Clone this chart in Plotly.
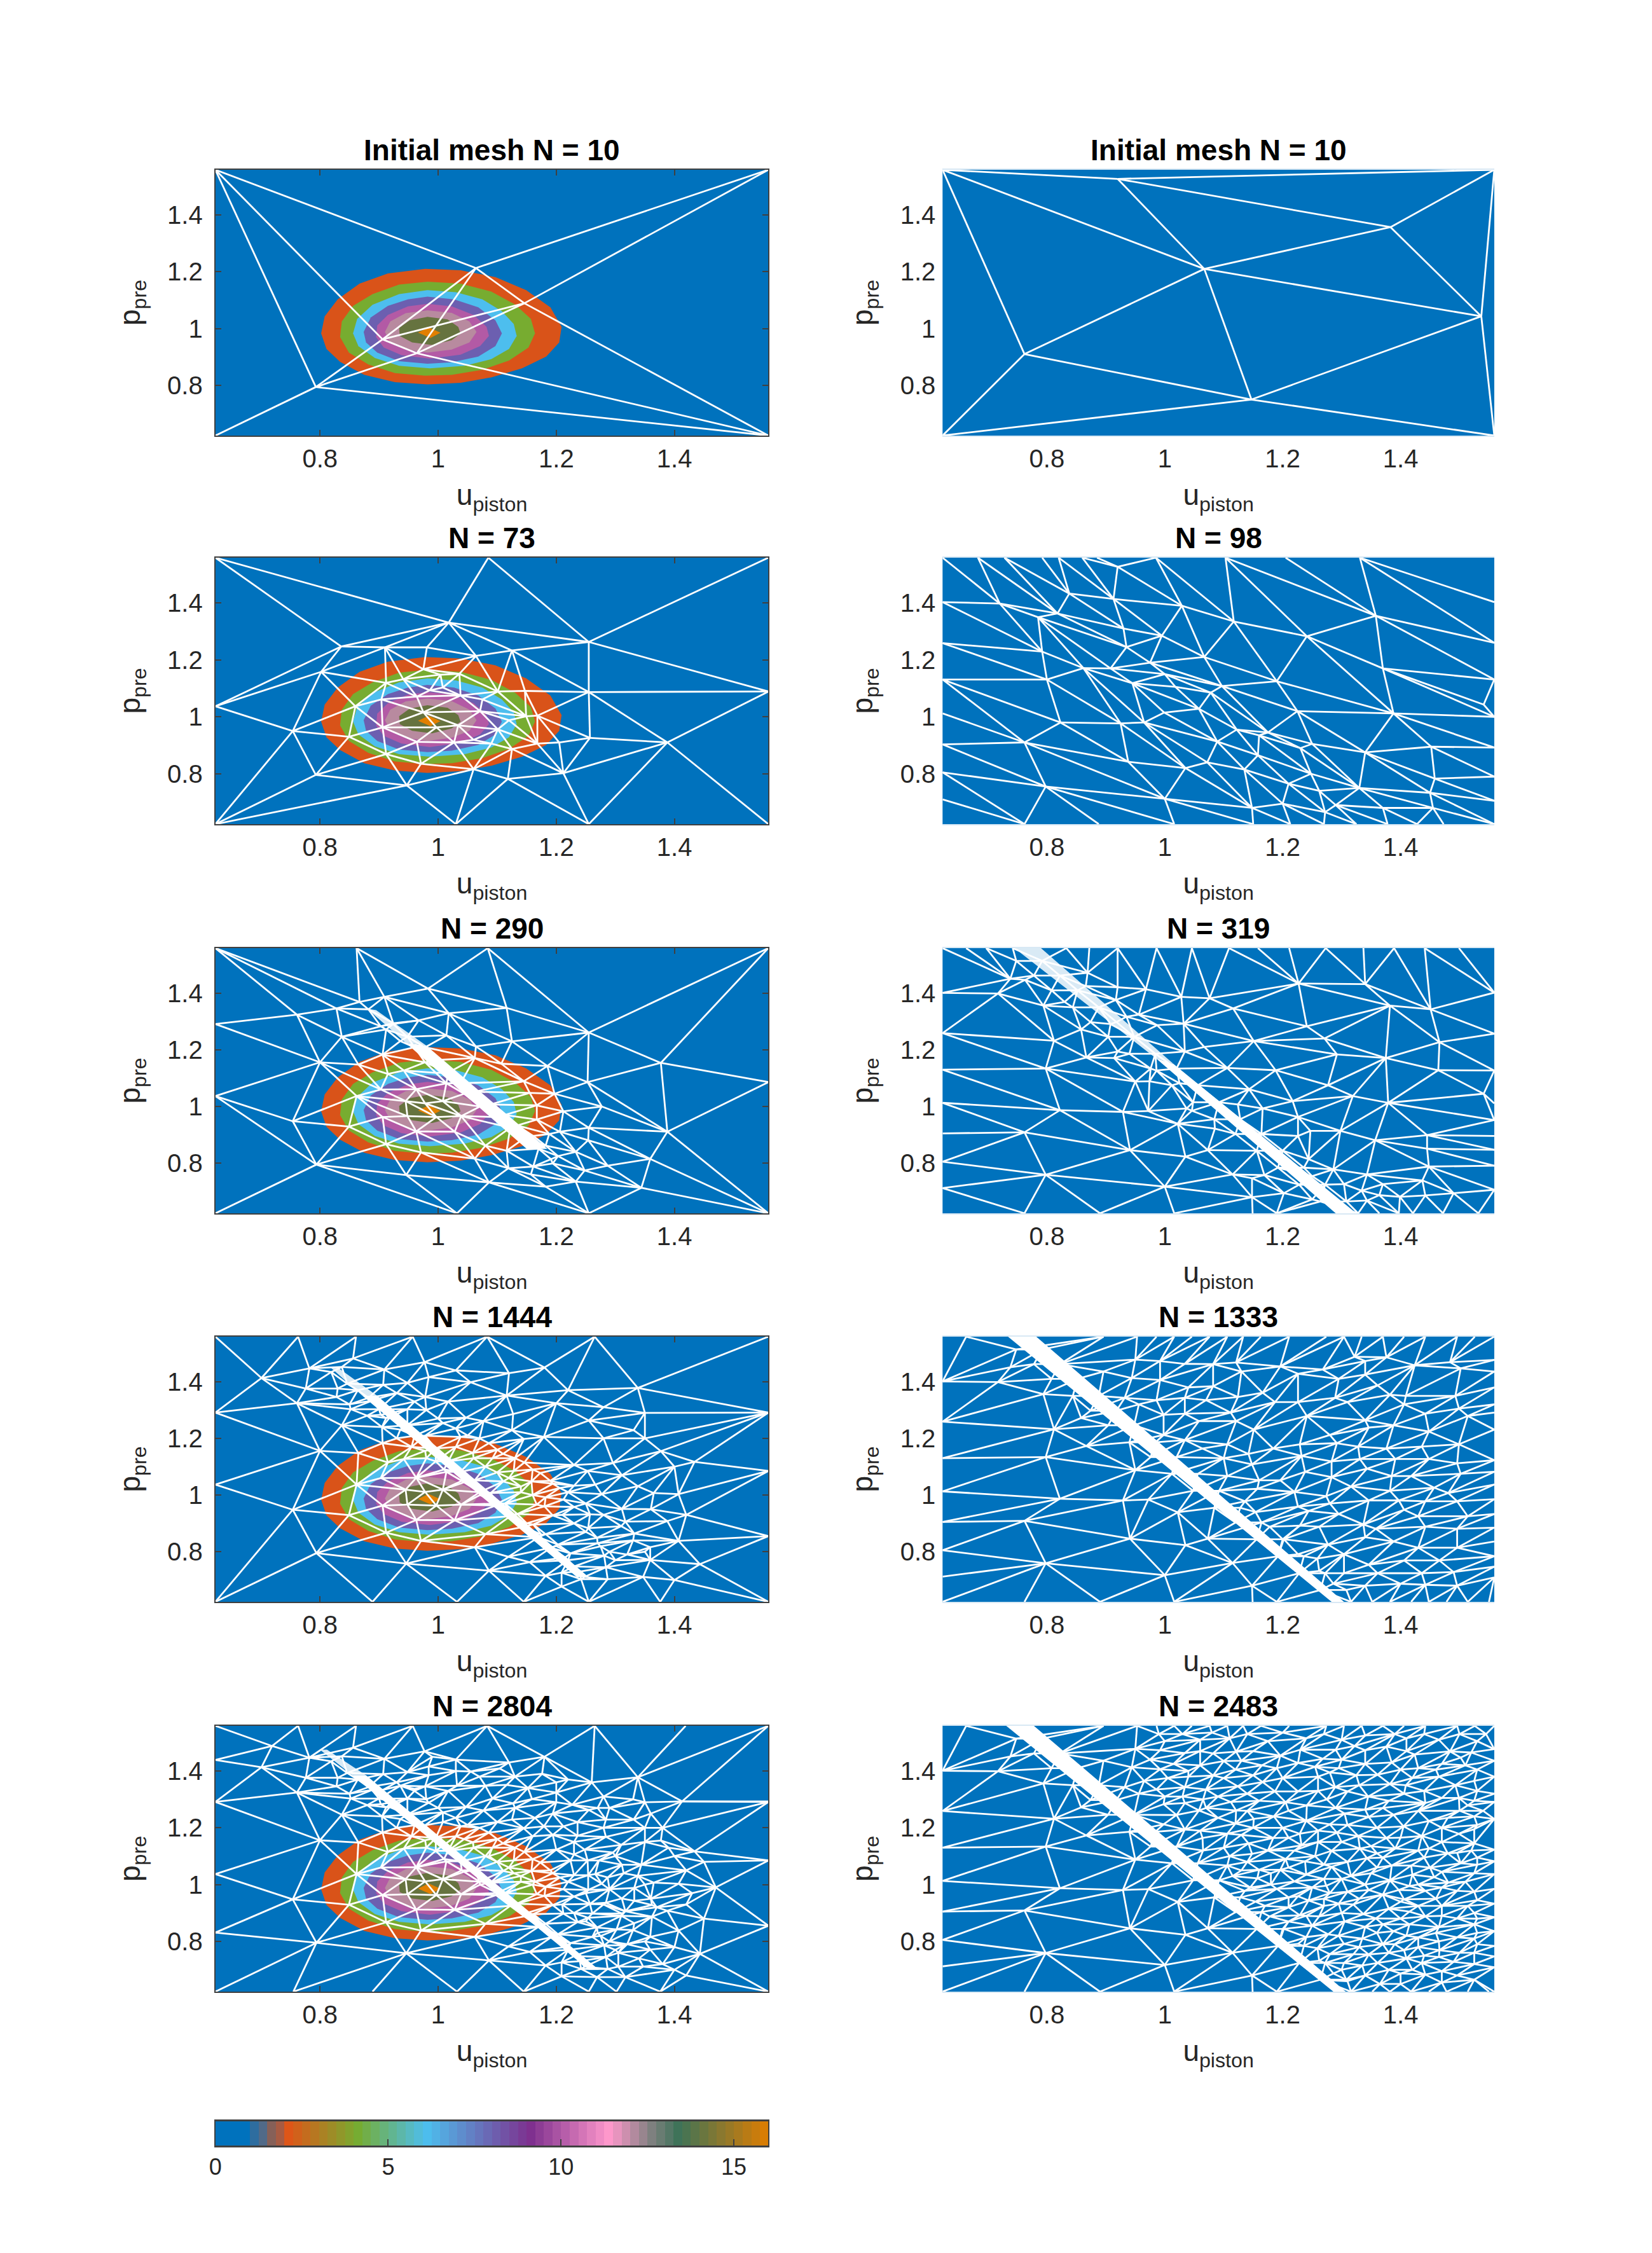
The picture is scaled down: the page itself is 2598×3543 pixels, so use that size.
import plotly.graph_objects as go

# axis limits and ticks (same on every panel)
lim = [0.623, 1.559]
tick_vals = [0.8, 1, 1.2, 1.4]
tick_text = ["0.8", "1", "1.2", "1.4"]

titles_left = ["Initial mesh N = 10", "N = 73", "N = 290", "N = 1444", "N = 2804"]
titles_right = ["Initial mesh N = 10", "N = 98", "N = 319", "N = 1333", "N = 2483"]

# filled contour levels, outermost first
c1 = [(.978,1.210),(1.038,1.205),(1.097,1.181),(1.149,1.135),(1.190,1.075),(1.209,1.006),(1.205,.951),(1.183,.901),(1.142,.860),(1.090,.828),(1.038,.809),(.982,.803),(.927,.811),(.875,.837),(.834,.883),(.811,.928),(.802,.983),(.808,1.043),(.830,1.103),(.867,1.158),(.915,1.194)]
c2 = [(.982,1.165),(1.038,1.158),(1.090,1.130),(1.131,1.084),(1.157,1.034),(1.164,.983),(1.153,.933),(1.120,.887),(1.075,.855),(1.023,.837),(.978,.834),(.927,.843),(.882,.873),(.849,.915),(.834,.970),(.837,1.025),(.856,1.080),(.889,1.121),(.934,1.155)]
c3 = [(.982,1.135),(1.030,1.128),(1.075,1.103),(1.108,1.061),(1.128,1.016),(1.133,.974),(1.120,.928),(1.090,.892),(1.045,.869),(.986,.860),(.934,.869),(.893,.896),(.865,.938),(.856,.983),(.863,1.034),(.889,1.084),(.934,1.121)]
c4 = [(.982,1.112),(1.027,1.103),(1.068,1.075),(1.097,1.029),(1.108,.983),(1.097,.938),(1.068,.901),(1.023,.881),(.982,.876),(.934,.885),(.897,.915),(.878,.951),(.874,.988),(.886,1.039),(.915,1.080),(.949,1.103)]
c5 = [(.982,1.087),(1.023,1.078),(1.060,1.048),(1.082,1.006),(1.086,.974),(1.071,.938),(1.038,.908),(.986,.894),(.938,.906),(.908,.933),(.895,.970),(.897,1.011),(.915,1.048),(.949,1.078)]
c6 = [(.982,1.064),(1.023,1.055),(1.053,1.025),(1.065,.988),(1.053,.951),(1.023,.926),(.982,.915),(.945,.926),(.919,.951),(.910,.988),(.919,1.025),(.945,1.054)]
c7 = [(.982,1.041),(1.016,1.032),(1.034,1.006),(1.038,.983),(1.023,.959),(.990,.942),(.956,.951),(.935,.974),(.934,1.002),(.952,1.029)]
c8 = [(.984,1.004),(1.004,.985),(.987,.967),(.966,.986)]
contours = [c1, c2, c3, c4, c5, c6, c7, c8]
contour_colors = ["#D95319", "#77AC30", "#4DBEEE", "#6C5FB0", "#B35AA5", "#B88A9F", "#66733F", "#E27F00"]

# colorbar cells
cbar_x = [.125,.375,.625,.875,1.125,1.375,1.625,1.875,2.125,2.375,2.625,2.875,3.125,3.375,3.625,3.875,4.125,4.375,4.625,4.875,5.125,5.375,5.625,5.875,6.125,6.375,6.625,6.875,7.125,7.375,7.625,7.875,8.125,8.375,8.625,8.875,9.125,9.375,9.625,9.875,10.125,10.375,10.625,10.875,11.125,11.375,11.625,11.875,12.125,12.375,12.625,12.875,13.125,13.375,13.625,13.875,14.125,14.375,14.625,14.875,15.125,15.375,15.625,15.875]
cbar_scale = [(0, "#0072BD"), (.9, "#0072BD"), (1.125, "#2E6D9F"), (1.375, "#516A88"), (1.625, "#866058"), (1.875, "#A85B42"), (2.125, "#DE5618"), (4.1, "#77AC30"), (6.1, "#4DBEEE"), (9.1, "#7E2F8E"), (11.4, "#FF99CC"), (12.6, "#808080"), (13.4, "#3D7358"), (16, "#E07D00")]
cbar_ticks = [0, 5, 10, 15]

corners = [(.623,1.559),(1.559,1.559),(.623,.623),(1.559,.623)]

# initial meshes, connectivity read directly
l1_nodes = corners + [(1.064,1.213),(.906,.962),(.964,.913),(1.146,1.089),(.793,.794)]
l1_edges = [(0,4),(0,5),(0,8),(1,4),(1,7),(2,8),(4,5),(4,6),(4,7),(5,6),(5,7),(6,7),(5,8),(6,8),(7,3),(6,3),(8,3)]
r1_nodes = corners + [(.920,1.527),(1.383,1.357),(1.067,1.210),(1.537,1.043),(.762,.910),(1.147,.750)]
r1_edges = [(0,4),(4,1),(4,5),(4,6),(0,6),(0,8),(6,5),(6,8),(6,7),(6,9),(5,1),(5,7),(1,7),(8,2),(8,9),(9,2),(9,7),(9,3),(7,3),(1,3)]

l2_nodes = corners + [(1.085,1.559),(1.018,1.331),(1.255,1.263),(1.125,1.233),(1.064,1.214),(.981,1.244),(.910,1.244),(.836,1.247),(.802,1.158),(.623,1.037),(1.559,1.089),(1.255,1.087),(1.147,1.091),(1.101,1.089),(1.168,1.004),(1.205,.910),(1.257,.926),(1.388,.910),(1.212,.802),(1.118,.782),(1.060,.816),(.971,.835),(.947,.759),(1.030,.623),(1.255,.623),(.793,.796),(.912,.869),(.849,.930),(.754,.950),(.860,1.037),(.912,1.119),(.941,1.132),(.975,1.167),(1.004,1.148),(1.036,1.151),(.906,.963),(.964,.912),(1.027,.910),(.997,.963),(.904,1.061),(.964,1.071),(.986,1.093),(.975,1.016),(1.034,.970),(1.060,.919),(1.090,.906),(1.125,.887),(1.168,.906),(1.149,1.002),(1.120,.988),(1.101,.956),(1.071,1.020),(1.038,1.075),(1.008,1.103),(1.075,1.061)]

# nodes common to the lower rows of the left column
l_shared = corners + [(.800,1.156),(.865,1.148),(.754,.948),(.623,1.037),(.794,.795),(.946,.758),(.849,.929),(.862,1.037),(.906,.963),(.963,.912),(1.028,.911),(.997,.963),(.912,.867),(.971,.838),(1.062,.816),(1.080,.862),(.903,1.060),(.963,1.061),(.978,1.011),(.945,1.019),(.948,.966),(1.008,1.019),(1.039,.966),(.915,1.115),(.942,1.127),(.906,1.183),(.837,1.246),(.761,1.324),(.828,1.346),(.623,1.291)]
l_band = [(.882,1.343),(.903,1.283),(.912,1.272),(.924,1.291),(.936,1.231),(.948,1.246),(.960,1.209),(.978,1.209),(.978,1.156),(.996,1.164),(.996,1.119),(1.017,1.119),(1.014,1.082),(1.038,1.082),(1.044,1.045),(1.062,1.052),(1.071,1.0),(1.089,1.007),(1.098,.963),(1.113,.970),(1.122,.925),(1.134,.933),(1.146,.888),(1.161,.896),(1.170,.851),(1.182,.862),(1.191,.814),(1.203,.825)]

l3_extra = [(.862,1.559),(1.084,1.559),(.983,1.416),(1.116,1.348),(1.255,1.261),(1.125,1.230),(1.064,1.212),(1.018,1.329),(.967,1.304),(.867,1.369),(1.014,1.251),(.924,1.294),(.909,1.387),(1.185,1.143),(1.377,1.154),(1.559,1.086),(1.253,1.086),(1.197,1.045),(1.155,1.048),(1.107,1.151),(1.062,1.171),(1.145,1.089),(1.212,.983),(1.277,1.0),(1.388,.911),(1.255,.925),(1.254,.881),(1.206,.911),(1.167,1.004),(1.167,.954),(1.188,.903),(1.359,.815),(1.344,.713),(1.248,.774),(1.287,.791),(1.233,.735),(1.182,.717),(1.157,.760),(1.119,.782),(1.086,.732),(1.032,.623),(1.255,.623),(1.116,.844),(1.233,.840),(1.194,.799),(1.161,.788)]

l4_extra = [(.763,1.559),(.861,1.559),(.957,1.559),(1.083,1.559),(1.265,1.559),(.889,.623),(1.032,.623),(1.145,.623),(1.255,.623),(1.376,.623),(1.559,1.291),(1.559,1.085),(.701,1.413),(.782,1.447),(.856,1.482),(.837,1.452),(.819,1.434),(.909,1.443),(.977,1.469),(.984,1.416),(.948,1.396),(1.055,1.398),(.776,1.376),(.830,1.376),(.852,1.303),(.907,1.389),(.978,1.346),(1.017,1.330),(.948,1.303),(1.116,1.351),(1.200,1.324),(1.338,1.378),(1.127,1.286),(1.047,1.273),(1.077,1.261),(1.008,1.254),(1.255,1.263),(1.331,1.229),(1.125,1.229),(1.145,1.198),(1.179,1.205),(1.377,1.155),(1.434,1.117),(1.253,1.085),(1.230,1.106),(1.296,1.113),(1.311,1.070),(1.338,1.031),(1.266,1.037),(1.365,1.007),(1.407,1.003),(1.277,1.003),(1.230,1.033),(1.212,.984),(1.230,.958),(1.311,.951),(1.257,.932),(1.388,.908),(1.317,.906),(1.254,.883),(1.332,.864),(1.269,.849),(1.407,.838),(1.559,.855),(1.359,.816),(1.275,.819),(1.359,.771),(1.443,.756),(1.281,.786),(1.284,.745),(1.347,.711),(1.287,.703),(1.242,.703),(1.182,.715),(1.209,.677),(1.209,.726),(1.155,.763),(1.119,.782),(1.086,.733),(1.038,1.205),(1.086,1.183),(1.110,1.145),(1.146,1.115),(1.173,1.078),(1.194,1.040),(1.182,.992),(1.206,1.025),(1.158,1.048),(1.128,1.085),(1.092,1.130),(1.059,1.149),(1.110,1.048),(1.140,1.010),(1.167,.966),(1.194,.928),(.846,1.393),(.864,1.370),(.888,1.333),(.900,1.303),(.918,1.273),(1.215,.780),(1.230,.748),(1.248,.711),(1.224,.794),
    (1.03,1.44),(1.12,1.43),(1.18,1.45),(1.22,1.37),(1.28,1.31),(1.35,1.29),(1.28,1.20),(1.35,1.20),(1.40,1.10),(1.36,.95),(1.42,.93),(1.32,.79),(1.40,.70)]
# rows of nodes running beside the ridge in the fine left meshes
l45_near = [(.93,1.36),(.96,1.33),(.98,1.30),(1.00,1.27),(1.03,1.235),(1.05,1.21),
    (1.03,1.17),(1.06,1.13),(1.08,1.10),(1.10,1.08),(1.12,1.06),(1.14,1.03),(1.16,1.00),(1.18,.96),(1.21,.93),(1.23,.90),(1.25,.87),(1.27,.83),(1.29,.80),(1.30,.77),
    (1.07,1.20),(1.10,1.16),(1.13,1.13),(1.16,1.09),(1.19,1.05),(1.22,1.01),(1.25,.97),(1.28,.93),(1.31,.89),(1.33,.84),(1.35,.80),
    (.85,1.32),(.88,1.28),(.905,1.24),(.93,1.20),(.955,1.17),(.98,1.13),(1.01,1.09),(1.04,1.05),(1.07,1.01),(1.10,.97),(1.125,.93),(1.15,.90),(1.175,.86),(1.20,.82),(1.22,.77),(1.24,.73)]

l5_extra = [(.623,1.439),(.719,1.488),(.623,.831),(1.419,1.559),(.755,.623),(1.302,.623),(1.413,1.293),(1.559,1.293),(1.284,1.229),(1.227,1.281),(1.176,1.390),(1.104,1.409),(1.159,1.301),(1.344,1.070),(1.362,.928),(1.305,.760),(1.305,.711),(1.269,.674),(1.317,.674),(1.194,1.175),(1.212,1.205),(1.236,1.172),(1.248,1.123),(1.200,1.123),(1.272,1.085),(1.224,1.085),(1.254,1.033),(1.287,1.025),(1.254,.981),(1.290,.984),(1.332,.988),(1.284,.936),(1.332,.943),(1.261,.898),(1.311,.898),(1.362,.887),(1.302,.842),(1.236,.868),(1.261,.816),(1.314,.786),(1.212,.898),(1.314,1.040),(1.164,1.235),(1.080,1.348),(1.032,1.348),(1.092,1.303),(.984,1.385),(1.152,1.340),(1.236,1.220),(1.284,1.168),(1.194,1.250),(.984,1.288),(1.008,1.220),(1.044,1.160),(1.086,1.100),(1.128,1.040),(1.164,1.010),(.960,1.337),(.936,1.348),(.906,1.333),
    (.99,1.45),(1.03,1.40),(1.07,1.38),(1.13,1.38),(1.20,1.36),(1.26,1.36),(1.29,1.27),(1.20,1.29),(1.13,1.27),(1.10,1.22),(1.16,1.17),(1.27,1.27),(1.33,1.30),(1.36,1.25),(1.38,1.20),(1.35,1.15),(1.39,1.13),(1.42,1.05),(1.45,1.08),(1.47,.99),(1.43,.97),(1.45,.88),(1.40,.78),(1.38,.72),(1.42,.68),(1.30,1.10),(1.35,1.00),(1.37,.92),(1.34,.74),(1.23,1.15),(1.31,1.14)]

# nodes left of the ridge, common to the lower rows of the right column
r_shared = corners + [(.623,1.259),(.623,1.401),(.623,1.130),(.623,1.013),(.623,.905),(.623,.805),(.623,.712),(.717,1.399),(.812,1.232),(.798,1.134),(.867,1.173),(.822,.987),(.762,.909),(.941,.846),(.798,.759),(1.0,.717),(.929,.981),(.972,.984),(.950,1.088),(1.022,.939),(1.073,.846),(1.035,.823),(1.115,.760),(1.148,.680),(.762,.623),(.890,.623),(1.016,.623),(1.149,.623),(.794,1.356),(.858,1.272),(.738,1.451),(.663,1.559),(1.190,.623)]
r_band = [(.748,1.514),(.792,1.514),(.778,1.462),(.822,1.462),(.808,1.410),(.852,1.410),(.844,1.350),(.888,1.350),(.874,1.298),(.918,1.298),(.904,1.246),(.948,1.246),(.940,1.186),(.984,1.186),(.976,1.134),(1.020,1.134),(1.012,1.075),(1.056,1.075),(1.048,1.015),(1.092,1.015),(1.084,.955),(1.128,.955),(1.120,.903),(1.164,.903),(1.156,.844),(1.200,.844),(1.192,.784),(1.236,.784),(1.228,.724),(1.272,.724),(1.264,.665),(1.308,.665)]

r3_extra = [(.872,1.559),(.920,1.559),(.986,1.559),(1.046,1.559),(1.109,1.559),(1.158,1.559),(1.211,1.559),(1.273,1.559),(1.337,1.559),(1.389,1.559),(1.441,1.559),(1.499,1.559),(.697,1.559),(.742,1.559),(.833,1.559),(1.559,1.402),(1.559,1.257),(1.559,1.127),(1.559,1.011),(1.559,.952),(1.559,.896),(1.559,.847),(1.559,.791),(1.559,.706),(.869,1.472),(.920,1.421),(.866,1.425),(.968,1.414),(1.028,1.387),(1.076,1.382),(1.116,1.346),(1.227,1.434),(1.340,1.432),(1.382,1.356),(1.451,1.343),(1.466,1.227),(1.464,1.128),(1.375,1.171),(1.292,1.184),(1.271,1.240),(1.241,1.283),(1.151,1.231),(1.067,1.210),(1.032,1.292),(.987,1.287),(.956,1.324),(.917,1.376),(1.034,1.194),(1.106,1.136),(1.188,1.128),(1.277,1.075),(1.319,1.037),(1.379,1.013),(1.541,1.045),(1.217,1.019),(1.143,1.061),(1.166,.993),(1.226,.963),(1.124,1.007),(1.247,.914),(1.298,.914),(1.357,.881),(1.445,.899),(1.226,.896),(1.244,.814),(1.286,.778),(1.343,.760),(1.448,.788),(1.445,.851),(1.437,.739),(1.370,.726),(1.364,.687),(1.442,.686),(1.490,.694),(1.399,.681),(1.334,.703),(1.304,.726),(1.343,.668),(1.250,.754),(1.397,.623),(1.364,.623),(1.421,.623),(1.472,.623),(1.532,.623),(1.328,.623),(1.202,.694),(1.250,.672),(1.148,.747),(1.169,.758),(1.085,.922),(1.046,.985),(1.037,.993),(1.025,1.082),(.974,1.089),(.914,1.171),(.986,1.127),(.920,1.194),(.830,1.369),(.763,1.447),(.908,1.291),(.935,1.317)]

r4_extra = [(.896,1.559),(.953,1.559),(.986,1.559),(1.016,1.559),(1.046,1.559),(1.076,1.559),(1.106,1.559),(1.133,1.559),(1.163,1.559),(1.211,1.559),(1.274,1.559),(1.304,1.559),(1.334,1.559),(1.370,1.559),(1.406,1.559),(1.442,1.559),(1.496,1.559),(1.526,1.559),
    (.950,1.478),(.992,1.473),(1.034,1.463),(1.082,1.462),(1.121,1.468),(1.196,1.454),(1.268,1.443),(1.322,1.488),(1.340,1.473),(1.376,1.486),(1.424,1.458),(1.484,1.469),(1.559,1.477),
    (.896,1.436),(.944,1.413),(.992,1.406),(1.040,1.380),(1.082,1.384),(1.130,1.436),(1.226,1.428),(1.295,1.410),(1.340,1.425),(1.361,1.387),(1.502,1.447),(1.559,1.436),
    (.932,1.343),(.986,1.335),(1.034,1.343),(1.070,1.335),(1.124,1.346),(1.166,1.361),(1.226,1.328),(1.289,1.343),(1.382,1.354),(1.409,1.350),(1.493,1.350),(1.559,1.380),
    (.956,1.320),(.998,1.283),(1.034,1.287),(1.058,1.261),(1.112,1.291),(1.151,1.231),(1.187,1.328),(1.241,1.279),(1.310,1.328),(1.340,1.264),(1.406,1.320),(1.442,1.287),(1.499,1.305),(1.559,1.320),
    (.998,1.212),(1.121,1.261),(1.280,1.212),(1.346,1.238),(1.388,1.246),(1.448,1.224),(1.514,1.279),(1.559,1.291),
    (1.034,1.194),(1.064,1.164),(1.106,1.179),(1.184,1.164),(1.229,1.179),(1.292,1.183),(1.328,1.171),(1.376,1.164),(1.436,1.171),(1.499,1.179),(1.559,1.231),
    (1.100,1.130),(1.142,1.145),(1.148,1.108),(1.232,1.138),(1.283,1.119),(1.331,1.127),(1.391,1.127),(1.448,1.127),(1.496,1.112),(1.559,1.123),
    (1.106,1.067),(1.160,1.052),(1.196,1.052),(1.238,1.082),(1.283,1.063),(1.343,1.093),(1.385,1.067),(1.418,1.067),(1.502,1.075),(1.559,1.082),
    (1.157,1.022),(1.220,1.011),(1.274,.996),(1.316,1.030),(1.382,1.015),(1.457,1.026),(1.481,1.007),(1.559,1.037),
    (1.136,.978),(1.226,.959),(1.280,.970),(1.346,.981),(1.397,.981),(1.442,.978),(1.496,.978),(1.559,.985),
    (1.154,.940),(1.244,.944),(1.295,.933),(1.337,.896),(1.406,.948),(1.430,.925),(1.514,.925),(1.559,.933),
    (1.178,.888),(1.229,.892),(1.262,.888),(1.358,.881),(1.442,.888),(1.496,.881),(1.559,.885),
    (1.202,.844),(1.277,.825),(1.340,.851),(1.388,.836),(1.430,.814),(1.496,.814),(1.559,.836),
    (1.226,.791),(1.259,.776),(1.304,.791),(1.346,.754),(1.406,.769),(1.466,.769),(1.559,.784),
    (1.262,.732),(1.304,.724),(1.361,.724),(1.436,.724),(1.490,.728),(1.559,.747),
    (1.286,.687),(1.340,.680),(1.400,.687),(1.442,.683),(1.496,.680),(1.559,.709),
    (1.316,.623),(1.352,.623),(1.382,.623),(1.418,.623),(1.448,.623),(1.478,.623),(1.514,.623),(1.550,.623)]

r5_extra = [(1.000,1.505),(1.060,1.510),(1.110,1.515),(1.175,1.505),(1.240,1.515),(1.300,1.510),(1.410,1.515),(1.465,1.510),(1.530,1.505),
    (.975,1.440),(1.015,1.425),(1.060,1.420),(1.100,1.435),(1.165,1.420),(1.255,1.415),(1.300,1.440),(1.385,1.430),(1.430,1.410),(1.470,1.425),(1.530,1.405),
    (.965,1.365),(1.005,1.375),(1.100,1.375),(1.150,1.385),(1.200,1.375),(1.260,1.380),(1.325,1.385),(1.420,1.375),(1.465,1.380),(1.525,1.365),
    (1.000,1.310),(1.065,1.300),(1.090,1.310),(1.160,1.295),(1.205,1.290),(1.275,1.300),(1.345,1.310),(1.380,1.295),(1.470,1.305),(1.525,1.295),
    (1.020,1.245),(1.090,1.235),(1.120,1.215),(1.185,1.240),(1.240,1.225),(1.305,1.250),(1.310,1.210),(1.405,1.205),(1.480,1.235),(1.525,1.240),
    (1.065,1.120),(1.130,1.175),(1.175,1.120),(1.210,1.165),(1.260,1.150),(1.300,1.150),(1.350,1.135),(1.400,1.165),(1.470,1.150),(1.525,1.145),(1.525,1.195),
    (1.140,1.080),(1.205,1.090),(1.255,1.100),(1.310,1.080),(1.370,1.095),(1.440,1.095),(1.480,1.110),(1.530,1.095),
    (1.115,1.030),(1.180,1.040),(1.240,1.035),(1.300,1.020),(1.350,1.040),(1.420,1.035),(1.470,1.045),(1.525,1.040),
    (1.145,.990),(1.190,.985),(1.250,.990),(1.310,.975),(1.370,.965),(1.415,.995),(1.470,.990),(1.525,.975),
    (1.170,.925),(1.210,.920),(1.270,.925),(1.320,.930),(1.380,.915),(1.415,.905),(1.470,.925),(1.525,.900),
    (1.210,.870),(1.250,.855),(1.305,.870),(1.370,.860),(1.415,.860),(1.465,.850),(1.525,.860),
    (1.240,.815),(1.295,.820),(1.335,.810),(1.390,.790),(1.430,.780),(1.465,.800),(1.525,.810),
    (1.280,.755),(1.320,.755),(1.380,.760),(1.410,.740),(1.465,.745),(1.525,.760),
    (1.300,.700),(1.335,.715),(1.380,.700),(1.420,.700),(1.470,.695),(1.525,.720),
    (1.310,.660),(1.365,.650),(1.400,.650),(1.470,.655),(1.525,.665),
    (.99,1.53),(1.03,1.53),(1.08,1.535),(1.14,1.53),(1.20,1.535),(1.27,1.53),(1.34,1.525),(1.39,1.53),(1.44,1.53),(1.50,1.53),(1.545,1.53),
    (1.06,1.47),(1.15,1.47),(1.23,1.475),(1.29,1.475),(1.41,1.47),(1.52,1.465),
    (1.04,1.40),(1.12,1.405),(1.19,1.41),(1.28,1.395),(1.40,1.405),(1.46,1.405),(1.51,1.42),
    (1.03,1.31),(1.14,1.32),(1.26,1.33),(1.33,1.35),(1.44,1.33),(1.53,1.33),
    (1.07,1.27),(1.14,1.26),(1.21,1.26),(1.29,1.27),(1.37,1.27),(1.43,1.26),(1.50,1.26),(1.54,1.26),
    (1.06,1.19),(1.15,1.20),(1.20,1.20),(1.26,1.19),(1.36,1.20),(1.47,1.20),(1.53,1.21),
    (1.11,1.10),(1.22,1.12),(1.36,1.11),(1.43,1.12),(1.52,1.12),
    (1.13,1.05),(1.21,1.06),(1.27,1.07),(1.36,1.06),(1.45,1.06),(1.53,1.07),
    (1.18,1.00),(1.27,1.02),(1.34,1.00),(1.43,1.00),(1.51,1.01),
    (1.21,.955),(1.27,.95),(1.33,.95),(1.40,.94),(1.46,.95),(1.53,.945),
    (1.24,.89),(1.30,.90),(1.40,.88),(1.47,.89),(1.53,.88),
    (1.36,.83),(1.41,.82),(1.46,.83),(1.53,.83),
    (1.33,.78),(1.37,.79),(1.44,.75),(1.50,.76),(1.53,.79)]

# N = 98 has its own nodes
r2_nodes = corners + [(.623,1.403),(.623,1.259),(.623,1.131),(.623,1.012),(.623,.903),(.623,.805),(.623,.710),(.683,1.559),(.728,1.559),(.792,1.559),(.820,1.559),(.860,1.559),(.885,1.559),(.985,1.559),(1.103,1.559),(1.205,1.559),(1.331,1.559),
    (1.559,1.403),(1.559,1.260),(1.559,1.131),(1.559,1.000),(1.559,.892),(1.559,.790),(1.559,.705),(.762,.623),(.888,.623),(1.016,.623),(1.150,.623),(1.213,.623),(1.270,.623),(1.325,.623),(1.378,.623),(1.428,.623),(1.473,.623),
    (.920,1.527),(.913,1.414),(1.029,1.390),(.838,1.433),(.720,1.398),(.818,1.363),(.785,1.350),(1.117,1.335),(1.358,1.355),(1.241,1.283),(.930,1.310),(1.067,1.210),(.792,1.229),(.862,1.171),(.908,1.170),(.800,1.131),(1.190,1.125),(1.370,1.170),(1.097,1.108),(1.078,1.085),(1.058,1.028),(1.225,1.020),(1.388,1.012),(1.541,1.043),(.999,1.015),(.965,.980),(.925,.977),(.823,.980),(.762,.910),(1.089,.913),(1.122,.955),(1.160,.935),(1.175,.945),(1.158,.865),(1.230,.890),(1.250,.905),(1.340,.875),(1.452,.895),(1.072,.840),(.938,.842),(1.035,.820),(1.135,.815),(1.248,.800),(1.330,.750),(1.458,.783),(1.450,.733),(.798,.755),(1.000,.712),(1.148,.680),(1.200,.695),(1.210,.765),(1.262,.740),(1.272,.665),(1.290,.690),(1.370,.680),(1.455,.680),(.995,1.285),(.975,1.190),(.945,1.118),(1.018,1.105),(.935,1.245),(1.000,1.150)]

# solid white ridge where the mesh lines merge, and the hatched tail above it
ridge_l3 = [(.945,1.225),(.980,1.215),(1.185,.850),(1.150,.850)]
tail_l3 = [(.880,1.345),(.895,1.340),(.980,1.215),(.945,1.225)]
ridge_l4 = [(.872,1.350),(.897,1.350),(1.255,.710),(1.235,.710)]
tail_l4 = [(.818,1.450),(.830,1.450),(.897,1.350),(.872,1.350)]
ridge_l5 = [(.855,1.385),(.878,1.385),(1.272,.700),(1.255,.700)]
tail_l5 = [(.800,1.475),(.812,1.475),(.878,1.385),(.855,1.385)]
ridge_r3 = [(.985,1.170),(1.015,1.150),(1.325,.623),(1.290,.623)]
tail_r3 = [(.745,1.559),(.790,1.559),(1.015,1.150),(.985,1.170)]
ridge_r4 = [(.734,1.559),(.782,1.559),(1.304,.623),(1.283,.623)]
ridge_r5 = [(.731,1.559),(.778,1.559),(1.307,.623),(1.286,.623)]

left_meshes = [l1_nodes, l2_nodes, l_shared + l_band + l3_extra, l_shared + l_band + l4_extra + l45_near, l_shared + l_band + l4_extra + l45_near + l5_extra]
right_meshes = [r1_nodes, r2_nodes, r_shared + r_band + r3_extra, r_shared + r_band + r4_extra, r_shared + r_band + r4_extra + r5_extra]
left_ridges = [None, None, ridge_l3, ridge_l4, ridge_l5]
right_ridges = [None, None, ridge_r3, ridge_r4, ridge_r5]
left_tails = [None, None, tail_l3, tail_l4, tail_l5]
right_tails = [None, None, tail_r3, None, None]
# how much the direction along the ridge is shortened when triangulating
left_squeeze = [1, 1, .6, 1.3, 1.3]
right_squeeze = [1, .45, .8, 1.6, 1.6]


def delaunay_edges(nodes, squeeze):
    # Bowyer-Watson, enough for a few hundred nodes
    pts = list(dict.fromkeys(nodes))
    n = len(pts)
    work = [((u * .61 - p * .79) * squeeze, u * .79 + p * .61) for u, p in pts]
    work += [(-500.0, -500.0), (1000.0, -500.0), (0.5, 1500.0)]

    def circle(a, b, c):
        (ax, ay), (bx, by), (cx, cy) = work[a], work[b], work[c]
        d = 2 * (ax * (by - cy) + bx * (cy - ay) + cx * (ay - by))
        ux = ((ax*ax + ay*ay) * (by - cy) + (bx*bx + by*by) * (cy - ay) + (cx*cx + cy*cy) * (ay - by)) / d
        uy = ((ax*ax + ay*ay) * (cx - bx) + (bx*bx + by*by) * (ax - cx) + (cx*cx + cy*cy) * (bx - ax)) / d
        return ux, uy, (ax - ux) ** 2 + (ay - uy) ** 2

    tris = {(n, n + 1, n + 2): circle(n, n + 1, n + 2)}
    for i in range(n):
        x, y = work[i]
        bad = [t for t, (ux, uy, r2) in tris.items() if (x - ux) ** 2 + (y - uy) ** 2 < r2]
        count = {}
        for t in bad:
            del tris[t]
            for e in ((t[0], t[1]), (t[1], t[2]), (t[2], t[0])):
                key = tuple(sorted(e))
                count[key] = count.get(key, 0) + 1
        for (a, b), c in count.items():
            if c == 1:
                tris[(a, b, i)] = circle(a, b, i)
    edges = set()
    for t in tris:
        for e in ((t[0], t[1]), (t[1], t[2]), (t[2], t[0])):
            a, b = sorted(e)
            if b < n:
                edges.add((a, b))
    return pts, sorted(edges)


def edge_lines(pts, edges):
    xs, ys = [], []
    for a, b in edges:
        # skip edges running along the box
        if pts[a][0] == pts[b][0] and pts[a][0] in lim:
            continue
        if pts[a][1] == pts[b][1] and pts[a][1] in lim:
            continue
        xs += [pts[a][0], pts[b][0], None]
        ys += [pts[a][1], pts[b][1], None]
    return xs, ys


def add_poly(fig, poly, color, xa, ya):
    fig.add_trace(go.Scatter(x=[q[0] for q in poly] + [poly[0][0]], y=[q[1] for q in poly] + [poly[0][1]], mode="lines", line_width=0, fill="toself", fillcolor=color, xaxis=xa, yaxis=ya, hoverinfo="skip", showlegend=False))


W, H = 2598, 3543
row_top = [267, 877, 1491, 2102, 2714]
row_bot = [685, 1296, 1908, 2519, 3132]
col_l = [330, 1478]
col_r = [1203, 2349]
FONT = "Liberation Sans"
TXT = "#262626"

fig = go.Figure()
layout = {}
notes = []

columns = [(titles_left, left_meshes, left_ridges, left_tails, left_squeeze), (titles_right, right_meshes, right_ridges, right_tails, right_squeeze)]
for col, (titles, meshes, ridges, tails, squeeze) in enumerate(columns):
    for row in range(5):
        idx = row * 2 + col + 1
        xa, ya = f"x{idx}", f"y{idx}"
        if col == 0:
            for poly, color in zip(contours, contour_colors):
                add_poly(fig, poly, color, xa, ya)
        if row == 0:
            pts = meshes[0]
            edges = l1_edges if col == 0 else r1_edges
        else:
            pts, edges = delaunay_edges(meshes[row], squeeze[row])
        lx, ly = edge_lines(pts, edges)
        fig.add_trace(go.Scatter(x=lx, y=ly, mode="lines", line=dict(color="white", width=2.8), xaxis=xa, yaxis=ya, hoverinfo="skip", showlegend=False))
        if tails[row]:
            add_poly(fig, tails[row], "rgba(255,255,255,0.85)", xa, ya)
        if ridges[row]:
            add_poly(fig, ridges[row], "white", xa, ya)

        common = dict(range=lim, tickmode="array", tickvals=tick_vals, ticktext=tick_text, tickfont=dict(family=FONT, size=40, color=TXT), showgrid=False, zeroline=False, automargin=False, ticks="inside", ticklen=9, tickwidth=2)
        if col == 0:
            common.update(showline=True, linecolor="#404040", linewidth=2, mirror="ticks", tickcolor="#404040")
            x_extra = {}
        else:
            common.update(showline=False, tickcolor="rgba(0,0,0,0)")
            x_extra = dict(showline=True, linecolor="#d8e8f4", linewidth=2, mirror=True)
        key = "" if idx == 1 else str(idx)
        layout["xaxis" + key] = dict(common, domain=[col_l[col] / W, col_r[col] / W], anchor=ya,
                                     title=dict(text="u<sub>piston</sub>", font=dict(family=FONT, size=46, color=TXT), standoff=20), **x_extra)
        layout["yaxis" + key] = dict(common, domain=[1 - row_bot[row] / H, 1 - row_top[row] / H], anchor=xa, ticklabelstandoff=10,
                                     title=dict(text="p<sub>pre</sub>", font=dict(family=FONT, size=46, color=TXT), standoff=28))
        notes.append(dict(text="<b>" + titles[row] + "</b>", xref="paper", yref="paper", x=(col_l[col] + col_r[col]) / 2 / W, y=1 - (row_top[row] - 3) / H, xanchor="center", yanchor="bottom", showarrow=False, font=dict(family=FONT, size=46, color="black")))

# colorbar strip on its own axes
fig.add_trace(go.Heatmap(x=cbar_x, y=[0.5], z=[cbar_x], zmin=0, zmax=16, colorscale=[[v / 16, c] for v, c in cbar_scale], showscale=False, hoverinfo="skip", xaxis="x11", yaxis="y11"))
layout["xaxis11"] = dict(domain=[330 / W, 1203 / W], anchor="y11", range=[0, 16], tickmode="array", tickvals=cbar_ticks, ticktext=[str(t) for t in cbar_ticks], tickfont=dict(family=FONT, size=36, color=TXT), ticks="inside", ticklen=10, tickwidth=2, tickcolor="#404040", showline=True, linecolor="#404040", linewidth=3, mirror=True, showgrid=False, zeroline=False)
layout["yaxis11"] = dict(domain=[1 - 3374 / H, 1 - 3336 / H], anchor="x11", range=[0, 1], showticklabels=False, ticks="", showline=True, linecolor="#404040", linewidth=2, mirror=True, showgrid=False, zeroline=False)

fig.update_layout(width=W, height=H, margin=dict(l=0, r=0, t=0, b=0), paper_bgcolor="white", plot_bgcolor="#0072BD", annotations=notes, showlegend=False, **layout)

fig.write_html("out.html", config=dict(displayModeBar=False), post_script="document.body.style.margin='0';")
